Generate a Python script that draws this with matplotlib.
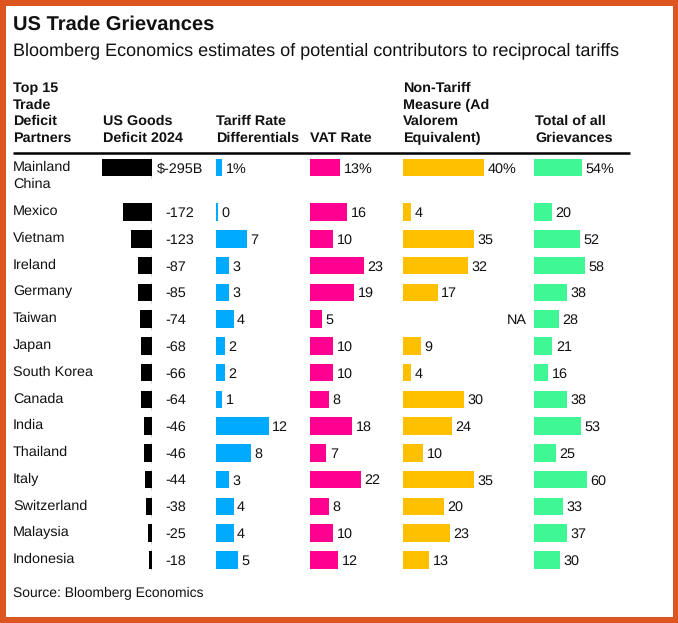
import numpy as np
import matplotlib
matplotlib.use("Agg")
import matplotlib.pyplot as plt
import matplotlib.transforms as mtransforms
from matplotlib.patches import Rectangle

# ---------------- data ----------------
countries = ["Mainland\nChina", "Mexico", "Vietnam", "Ireland", "Germany", "Taiwan",
             "Japan", "South Korea", "Canada", "India", "Thailand", "Italy",
             "Switzerland", "Malaysia", "Indonesia"]
deficit = [-295, -172, -123, -87, -85, -74, -68, -66, -64, -46, -46, -44, -38, -25, -18]
tariff = [1.4, 0.4, 7, 3, 3, 4, 2, 2, 1.4, 12, 8, 3, 4, 4, 5]
vat = [13, 16, 10, 23, 19, 5, 10, 10, 8, 18, 7, 22, 8, 10, 12]
ntm = [40, 4, 35, 32, 17, np.nan, 9, 4, 30, 24, 10, 35, 20, 23, 13]
total = [54, 20, 52, 58, 38, 28, 21, 16, 38, 53, 25, 60, 33, 37, 30]

headers = ["Top 15\nTrade\nDeficit\nPartners", "US Goods\nDeficit 2024",
           "Tariff Rate\nDifferentials", "VAT Rate",
           "Non-Tariff\nMeasure (Ad\nValorem\nEquivalent)", "Total of all\nGrievances"]

title = "US Trade Grievances"
subtitle = "Bloomberg Economics estimates of potential contributors to reciprocal tariffs"
source = "Source: Bloomberg Economics"

# ---------------- style ----------------
W, H = 678, 623
DPI = 100
FONT = "Liberation Sans"
TXT = "#111111"
BORDER = "#DD5520"
C_DEF = "#000000"
C_TAR = "#00AAFF"
C_VAT = "#FF0090"
C_NTM = "#FFC000"
C_TOT = "#3FF795"
FS = 10.4

plt.rcParams["font.family"] = [FONT, "DejaVu Sans"]
plt.rcParams["text.hinting"] = "no_hinting"

fig = plt.figure(figsize=(W / DPI, H / DPI), dpi=DPI)
fig.patch.set_facecolor(BORDER)

# canvas axes in pixel units for frame, titles and rules
canvas = fig.add_axes([0, 0, 1, 1])
canvas.set_xlim(0, W)
canvas.set_ylim(H, 0)
canvas.axis("off")
canvas.add_patch(Rectangle((6, 6), W - 11, H - 12, facecolor="white", edgecolor="none"))

canvas.text(13, 30, title, fontsize=14.5, fontweight="bold", color=TXT, va="baseline")
canvas.text(13, 55, subtitle, fontsize=13.0, color=TXT, va="baseline")
canvas.text(13, 597, source, fontsize=10.0, color=TXT, va="baseline")

# row layout (pixel y of bar centres)
n = len(countries)
row_y = np.array([167.7] + [212 + 26.75 * i for i in range(n - 1)])
bar_h = 17.5

# header text, bottom lines aligned
header_x = [13, 103, 216, 310, 403, 535]
for hx, htxt in zip(header_x, headers):
    lines = htxt.split("\n")
    for k, line in enumerate(reversed(lines)):
        canvas.text(hx, 142 - 16.7 * k, line, fontsize=FS, fontweight="bold",
                    color=TXT, va="baseline")
canvas.plot([13, 630], [153, 153], color="black", lw=1.8, solid_capstyle="butt")

# row labels
for y, name in zip(row_y, countries):
    for k, line in enumerate(name.split("\n")):
        canvas.text(13, y + 3.3 + 17 * k, line, fontsize=FS, color=TXT, va="baseline")


def column(x0_px, w_px, xlim):
    ax = fig.add_axes([x0_px / W, 0, w_px / W, 1])
    ax.set_xlim(*xlim)
    ax.set_ylim(H, 0)
    ax.axis("off")
    ax.patch.set_alpha(0)
    return ax


def labels(ax, vals, fmt_first, dx):
    tr = mtransforms.offset_copy(ax.transData, fig=fig, x=dx, y=0, units="dots")
    for i, (v, y) in enumerate(zip(vals, row_y)):
        if np.isnan(v):
            continue
        s = fmt_first(v) if i == 0 else f"{round(v)}"
        ax.text(v, y + 5, s, transform=tr, fontsize=FS, color=TXT, va="baseline")


# US goods deficit (bars grow left from zero line)
def_scale = 0.17
ax_def = column(152.3 - 60, 60, (-60 / def_scale, 0))
ax_def.barh(row_y, deficit, height=bar_h, color=C_DEF)
ax_def.vlines(np.zeros(n), row_y - 10.5, row_y + 10.5, color="black", lw=1)
tr_def = mtransforms.offset_copy(ax_def.transData, fig=fig, x=4.5, y=0, units="dots")
tr_def2 = mtransforms.offset_copy(ax_def.transData, fig=fig, x=13.5, y=0, units="dots")
for i, (v, y) in enumerate(zip(deficit, row_y)):
    if i == 0:
        ax_def.text(0, y + 5, f"$-{abs(v)}B", transform=tr_def, fontsize=FS, color=TXT, va="baseline")
    else:
        ax_def.text(0, y + 5, f"{v}", transform=tr_def2, fontsize=FS, color=TXT, va="baseline")

# tariff rate differentials
ax_tar = column(216, 80, (0, 80 / 4.4))
ax_tar.barh(row_y, tariff, height=bar_h, color=C_TAR, left=0)
labels(ax_tar, tariff, lambda v: f"{round(v)}%", 3.5)

# VAT rate
ax_vat = column(310, 85, (0, 85 / 2.33))
ax_vat.barh(row_y, vat, height=bar_h, color=C_VAT)
labels(ax_vat, vat, lambda v: f"{round(v)}%", 3.5)

# non-tariff measure
ntm_arr = np.array(ntm, dtype=float)
ax_ntm = column(403, 125, (0, 125 / 2.03))
ax_ntm.barh(row_y, np.nan_to_num(ntm_arr), height=bar_h, color=C_NTM)
labels(ax_ntm, ntm_arr, lambda v: f"{round(v)}%", 3.5)
for v, y in zip(ntm_arr, row_y):
    if np.isnan(v):
        canvas.text(527, y + 5, "NA", fontsize=FS, color=TXT, va="baseline", ha="right")

# total of all grievances
ax_tot = column(534, 100, (0, 100 / 0.88))
ax_tot.barh(row_y, total, height=bar_h, color=C_TOT)
labels(ax_tot, total, lambda v: f"{round(v)}%", 3.5)

fig.savefig("out.png", dpi=DPI, facecolor=fig.get_facecolor())
